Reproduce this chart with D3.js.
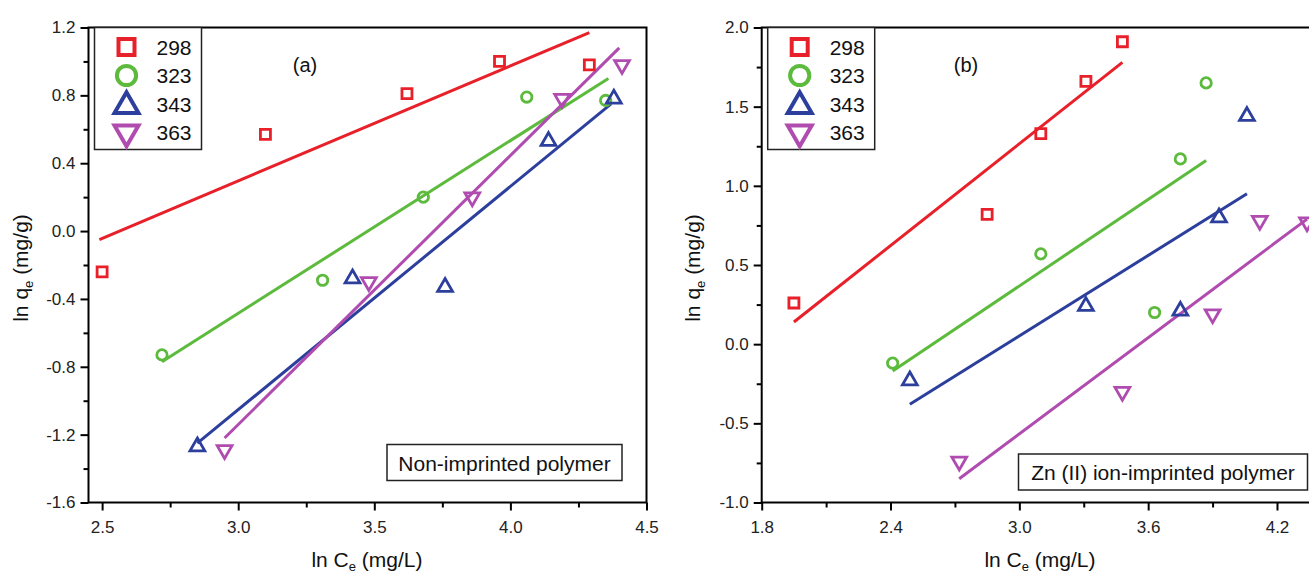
<!DOCTYPE html>
<html>
<head>
<meta charset="utf-8">
<script src="https://cdn.jsdelivr.net/npm/d3@7"></script>
<style>
  body { margin: 0; background: #fff; }
  svg { display: block; font-family: "Liberation Sans", Arial, sans-serif; }
</style>
</head>
<body>
<svg id="chart" width="1309" height="578"></svg>
<script>
// temperatures (K) used as series names
var temps = ["298", "323", "343", "363"];

// (a) non-imprinted polymer, [ln Ce, ln qe]
var niPoints298 = [[2.50, -0.24], [3.10, 0.57], [3.62, 0.81], [3.96, 1.00], [4.29, 0.98]];
var niPoints323 = [[2.72, -0.73], [3.31, -0.29], [3.68, 0.20], [4.06, 0.79], [4.35, 0.77]];
var niPoints343 = [[2.85, -1.27], [3.42, -0.28], [3.76, -0.33], [4.14, 0.53], [4.38, 0.78]];
var niPoints363 = [[2.95, -1.29], [3.48, -0.30], [3.86, 0.20], [4.19, 0.78], [4.41, 0.98]];
// fitted lines, [x0, y0, x1, y1]
var niFits = [[2.49, -0.05, 4.29, 1.17], [2.72, -0.77, 4.36, 0.90],
              [2.85, -1.25, 4.37, 0.75], [2.95, -1.22, 4.40, 1.08]];

// (b) Zn(II) ion-imprinted polymer
var iipPoints298 = [[1.95, 0.26], [2.85, 0.82], [3.10, 1.33], [3.31, 1.66], [3.48, 1.91]];
var iipPoints323 = [[2.41, -0.12], [3.10, 0.57], [3.63, 0.20], [3.75, 1.17], [3.87, 1.65]];
var iipPoints343 = [[2.49, -0.23], [3.31, 0.24], [3.75, 0.21], [3.93, 0.80], [4.06, 1.44]];
var iipPoints363 = [[2.72, -0.74], [3.48, -0.30], [3.90, 0.19], [4.12, 0.78], [4.34, 0.77]];
var iipFits = [[1.95, 0.14, 3.48, 1.78], [2.41, -0.17, 3.87, 1.16],
               [2.49, -0.38, 4.06, 0.95], [2.72, -0.85, 4.34, 0.79]];

// ticks
var aXTicks = [2.5, 3.0, 3.5, 4.0, 4.5], aXMinor = [2.75, 3.25, 3.75, 4.25];
var aYTicks = [-1.6, -1.2, -0.8, -0.4, 0.0, 0.4, 0.8, 1.2], aYMinor = [-1.4, -1.0, -0.6, -0.2, 0.2, 0.6, 1.0];
var bXTicks = [1.8, 2.4, 3.0, 3.6, 4.2], bXMinor = [2.1, 2.7, 3.3, 3.9, 4.5];
var bYTicks = [-1.0, -0.5, 0.0, 0.5, 1.0, 1.5, 2.0], bYMinor = [-0.75, -0.25, 0.25, 0.75, 1.25, 1.75];

var colors = ["#e8202a", "#5cba3c", "#2c3f9c", "#b04cb0"];
var shapes = [d3.symbolSquare, d3.symbolCircle, d3.symbolTriangle, d3.symbolTriangle];

var svg = d3.select("#chart");

function marker(g, i, x, y, big) {
  var s = big ? [256, 290, 250, 250][i] : [100, 85, 95, 95][i];
  g.append("path")
    .attr("d", d3.symbol().type(shapes[i]).size(s)())
    .attr("transform", "translate(" + x + "," + y + ")" + (i == 3 ? " rotate(180)" : ""))
    .attr("fill", "none")
    .attr("stroke", colors[i])
    .attr("stroke-width", big ? 4 : 2.8);
}

function drawPanel(p) {
  var x = d3.scaleLinear().domain(p.xDomain).range([p.left, p.right]);
  var y = d3.scaleLinear().domain(p.yDomain).range([502.5, 27.5]);
  var g = svg.append("g");
  // plain hyphen for negatives, like the original
  var fmt = function (v) { return d3.format(".1f")(v).replace("\u2212", "-"); };

  // minor ticks first, then major axis
  g.append("g").attr("transform", "translate(0,502.5)")
    .call(d3.axisBottom(x).tickValues(p.xMinor).tickSize(5).tickFormat(""))
    .call(function (a) { a.select(".domain").remove(); a.selectAll("line").attr("stroke-width", 2); });
  g.append("g").attr("transform", "translate(" + p.left + ",0)")
    .call(d3.axisLeft(y).tickValues(p.yMinor).tickSize(5).tickFormat(""))
    .call(function (a) { a.select(".domain").remove(); a.selectAll("line").attr("stroke-width", 2); });

  var xa = g.append("g").attr("transform", "translate(0,502.5)")
    .call(d3.axisBottom(x).tickValues(p.xTicks).tickSize(8).tickPadding(10).tickFormat(fmt));
  var ya = g.append("g").attr("transform", "translate(" + p.left + ",0)")
    .call(d3.axisLeft(y).tickValues(p.yTicks).tickSize(8).tickPadding(5).tickFormat(fmt));
  [xa, ya].forEach(function (a) {
    a.select(".domain").remove();
    a.selectAll("line").attr("stroke-width", 2);
    a.selectAll("text").attr("font-size", 17).attr("fill", "#222")
      .style("font-family", "'Liberation Sans', Arial, sans-serif");
  });

  g.append("rect")
    .attr("x", p.left).attr("y", 27.5)
    .attr("width", p.right - p.left).attr("height", 475)
    .attr("fill", "none").attr("stroke", "#000").attr("stroke-width", 2);

  // fitted lines
  p.fits.forEach(function (f, i) {
    g.append("line")
      .attr("x1", x(f[0])).attr("y1", y(f[1]))
      .attr("x2", x(f[2])).attr("y2", y(f[3]))
      .attr("stroke", colors[i]).attr("stroke-width", 3);
  });

  // points
  p.points.forEach(function (pts, i) {
    pts.forEach(function (d) { marker(g, i, x(d[0]), y(d[1]), false); });
  });

  // legend
  g.append("rect")
    .attr("x", p.left + 6).attr("y", 27.5)
    .attr("width", 107).attr("height", 122)
    .attr("fill", "#fff").attr("stroke", "#222").attr("stroke-width", 1.5);
  temps.forEach(function (t, i) {
    var ly = 47 + i * 28.5;
    marker(g, i, p.left + 38, ly + (i == 2 ? 2 : 0), true);
    g.append("text").attr("x", p.left + 68).attr("y", ly + 7.5)
      .attr("font-size", 21).attr("fill", "#111").text(t);
  });

  g.append("text").attr("x", p.tagX).attr("y", 72)
    .attr("text-anchor", "middle").attr("font-size", 20).attr("fill", "#111").text(p.tag);

  // caption box
  g.append("rect")
    .attr("x", p.boxX).attr("y", p.boxY)
    .attr("width", p.boxW).attr("height", 36)
    .attr("fill", "#fff").attr("stroke", "#222").attr("stroke-width", 1.5);
  g.append("text").attr("x", p.boxX + p.boxW / 2).attr("y", p.boxY + 26)
    .attr("text-anchor", "middle").attr("font-size", 21).attr("fill", "#111").text(p.caption);

  // axis titles
  var xt = g.append("text").attr("x", p.xTitleX).attr("y", 567)
    .attr("text-anchor", "middle").attr("font-size", 21).attr("fill", "#111");
  xt.append("tspan").text("ln C");
  xt.append("tspan").attr("font-size", 13).attr("dy", 4).text("e");
  xt.append("tspan").attr("dy", -4).text(" (mg/L)");

  var yt = g.append("text")
    .attr("transform", "translate(" + p.yTitleX + ",268) rotate(-90)")
    .attr("text-anchor", "middle").attr("font-size", 21).attr("fill", "#111");
  yt.append("tspan").text("ln q");
  yt.append("tspan").attr("font-size", 13).attr("dy", 5).text("e");
  yt.append("tspan").attr("dy", -5).text(" (mg/g)");
}

drawPanel({
  xDomain: [2.45, 4.5], yDomain: [-1.6, 1.2], left: 88.5, right: 646.5,
  xTicks: aXTicks, xMinor: aXMinor, yTicks: aYTicks, yMinor: aYMinor,
  points: [niPoints298, niPoints323, niPoints343, niPoints363], fits: niFits,
  tag: "(a)", tagX: 305, caption: "Non-imprinted polymer",
  boxX: 387, boxY: 444.5, boxW: 235, xTitleX: 367, yTitleX: 28
});

drawPanel({
  xDomain: [1.8, 4.5], yDomain: [-1.0, 2.0], left: 761.7, right: 1341.4,
  xTicks: bXTicks, xMinor: bXMinor, yTicks: bYTicks, yMinor: bYMinor,
  points: [iipPoints298, iipPoints323, iipPoints343, iipPoints363], fits: iipFits,
  tag: "(b)", tagX: 966, caption: "Zn (II) ion-imprinted polymer",
  boxX: 1018.5, boxY: 454, boxW: 289, xTitleX: 1040, yTitleX: 700
});
</script>
</body>
</html>
